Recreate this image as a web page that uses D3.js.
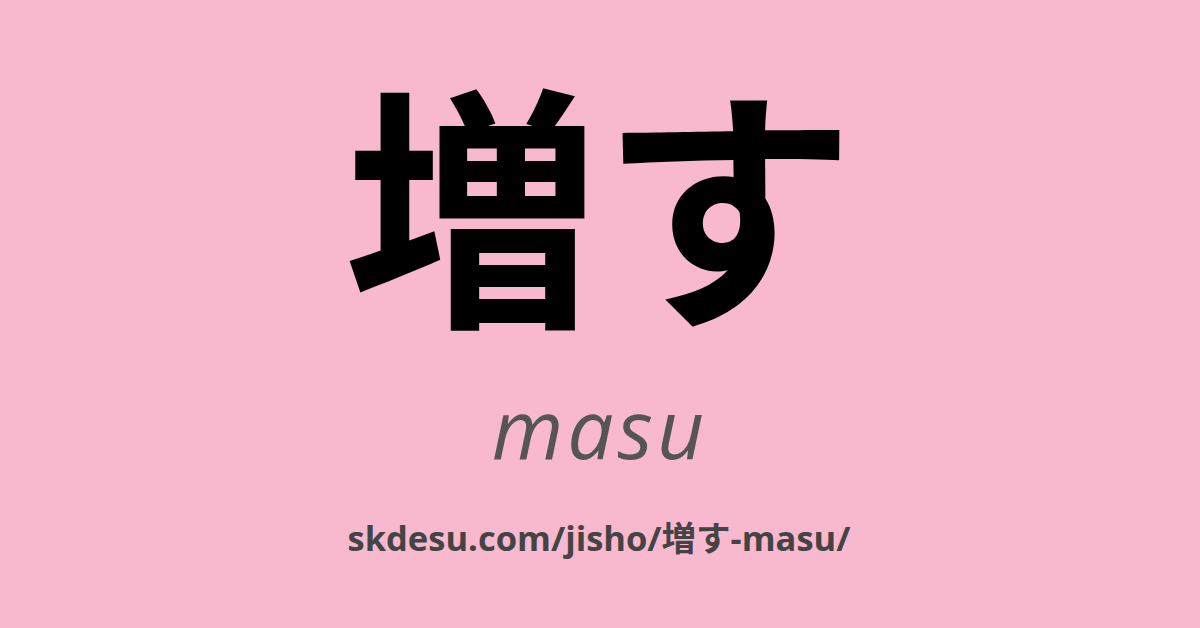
<!DOCTYPE html>
<html>
<head>
<meta charset="utf-8">
<script src="https://cdn.jsdelivr.net/npm/d3@7"></script>
<style>
  html, body { margin: 0; padding: 0; background: #f8b9cf; }
</style>
</head>
<body>
<div id="main"></div>
<script>
// card texts
const wordLines = ['増す'];
const readingLines = ['masu'];
const urlLines = ['skdesu.com/jisho/増す-masu/'];

const width = 1200;
const height = 628;

const svg = d3.select('#main')
    .append('svg')
    .attr('width', width)
    .attr('height', height);

svg.append('rect')
    .attr('width', width)
    .attr('height', height)
    .attr('fill', '#f8b9cf');

// big kanji word
svg.selectAll('text.word')
    .data(wordLines)
    .enter()
    .append('text')
    .attr('class', 'word')
    .attr('x', 600)
    .attr('y', 307)
    .attr('text-anchor', 'middle')
    .attr('font-family', '"Noto Sans CJK JP", sans-serif')
    .attr('font-weight', 700)
    .attr('font-size', 256)
    .attr('fill', '#000')
    .text(d => d);

// romaji reading
svg.selectAll('text.reading')
    .data(readingLines)
    .enter()
    .append('text')
    .attr('class', 'reading')
    .attr('x', 600)
    .attr('y', 459)
    .attr('text-anchor', 'middle')
    .attr('font-family', '"Open Sans", sans-serif')
    .attr('font-style', 'italic')
    .attr('font-weight', 400)
    .attr('font-size', 82)
    .attr('letter-spacing', 4)
    .attr('fill', '#555555')
    .text(d => d);

// url footer
svg.selectAll('text.url')
    .data(urlLines)
    .enter()
    .append('text')
    .attr('class', 'url')
    .attr('x', 599)
    .attr('y', 551)
    .attr('text-anchor', 'middle')
    .attr('font-family', '"Open Sans", "Noto Sans CJK JP", sans-serif')
    .attr('font-weight', 700)
    .attr('font-size', 34.5)
    .attr('fill', '#444444')
    .text(d => d);
</script>
</body>
</html>
